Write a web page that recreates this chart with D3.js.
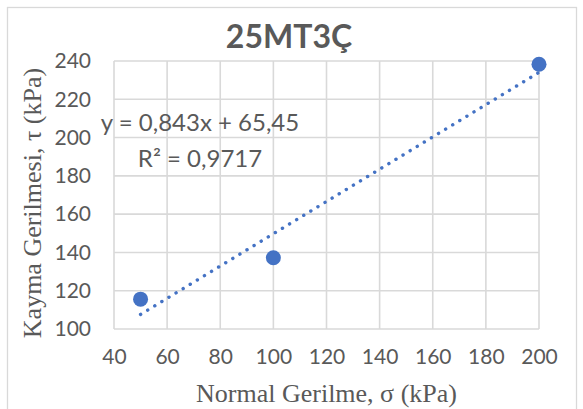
<!DOCTYPE html>
<html>
<head>
<meta charset="utf-8">
<script src="https://cdn.jsdelivr.net/npm/d3@7"></script>
<style>
  html, body { margin: 0; padding: 0; background: #fff; }
  svg { display: block; }
</style>
</head>
<body>
<svg id="chart" width="583" height="409"></svg>
<script>
// Direct shear test results: normal stress vs. shear stress
const normalStress = [50, 100, 200];          // σ (kPa)
const shearStress  = [115.6, 137.2, 238.3];   // τ (kPa)
const xTicks = [40, 60, 80, 100, 120, 140, 160, 180, 200];
const yTicks = [100, 120, 140, 160, 180, 200, 220, 240];
const fitSlope = 0.843;
const fitIntercept = 65.45;
const fitR2 = "0,9717";
const chartTitle = "25MT3Ç";

const svg = d3.select("#chart");
const plot = { left: 114, right: 539, top: 61, bottom: 329 };

const x = d3.scaleLinear().domain([40, 200]).range([plot.left, plot.right]);
const y = d3.scaleLinear().domain([100, 240]).range([plot.bottom, plot.top]);

const grey = "#595959";
const gridColor = "#d9d9d9";
const blue = "#4472C4";
const sans = "Lato, 'Open Sans', sans-serif";
const serif = "'Liberation Serif', 'Times New Roman', serif";

// chart frame
svg.append("rect")
  .attr("x", 7.5).attr("y", 7.5)
  .attr("width", 569).attr("height", 410)
  .attr("fill", "#fff").attr("stroke", gridColor).attr("stroke-width", 1.3);

// title
svg.append("text")
  .attr("x", 289).attr("y", 48)
  .attr("text-anchor", "middle")
  .attr("font-family", sans)
  .attr("font-weight", "bold")
  .attr("font-size", 32)
  .attr("fill", grey)
  .text(chartTitle);

// gridlines
const grid = svg.append("g");
grid.selectAll(".gx").data(xTicks).join("line")
  .attr("x1", d => x(d)).attr("x2", d => x(d))
  .attr("y1", plot.top).attr("y2", plot.bottom)
  .attr("stroke", gridColor).attr("stroke-width", 1.6);
grid.selectAll(".gy").data(yTicks).join("line")
  .attr("x1", plot.left).attr("x2", plot.right)
  .attr("y1", d => y(d)).attr("y2", d => y(d))
  .attr("stroke", gridColor).attr("stroke-width", 1.6);

// axes (labels only, no domain/tick lines)
const xAxis = svg.append("g")
  .attr("transform", `translate(0,${plot.bottom})`)
  .call(d3.axisBottom(x).tickValues(xTicks).tickSize(0).tickPadding(20));
const yAxis = svg.append("g")
  .attr("transform", `translate(${plot.left},0)`)
  .call(d3.axisLeft(y).tickValues(yTicks).tickSize(0).tickPadding(23));
[xAxis, yAxis].forEach(g => {
  g.select(".domain").remove();
  g.selectAll("text")
    .attr("font-family", sans)
    .attr("font-size", 21)
    .attr("fill", grey);
});
xAxis.selectAll("text").attr("dy", "0.71em");

// axis titles
svg.append("text")
  .attr("x", (plot.left + plot.right) / 2).attr("y", 402)
  .attr("text-anchor", "middle")
  .attr("font-family", serif)
  .attr("font-size", 26)
  .attr("fill", grey)
  .text("Normal Gerilme, σ (kPa)");

svg.append("text")
  .attr("transform", `translate(41,${(plot.top + plot.bottom) / 2 + 8}) rotate(-90)`)
  .attr("text-anchor", "middle")
  .attr("font-family", serif)
  .attr("font-size", 26)
  .attr("fill", grey)
  .text("Kayma Gerilmesi, τ (kPa)");

// linear trendline (dotted)
const fitX = d3.extent(normalStress);
svg.append("line")
  .attr("x1", x(fitX[0])).attr("y1", y(fitSlope * fitX[0] + fitIntercept))
  .attr("x2", x(fitX[1])).attr("y2", y(fitSlope * fitX[1] + fitIntercept))
  .attr("stroke", blue)
  .attr("stroke-width", 3.4)
  .attr("stroke-linecap", "round")
  .attr("stroke-dasharray", "0.1 8.2");

// data points
svg.selectAll(".pt").data(normalStress).join("circle")
  .attr("cx", d => x(d))
  .attr("cy", (d, i) => y(shearStress[i]))
  .attr("r", 7.5)
  .attr("fill", blue);

// fit equation label
const eq = svg.append("text")
  .attr("text-anchor", "middle")
  .attr("font-family", sans)
  .attr("font-size", 24)
  .attr("fill", grey);
eq.append("tspan").attr("x", 200).attr("y", 131)
  .text(`y = ${String(fitSlope).replace(".", ",")}x + ${String(fitIntercept).replace(".", ",")}`);
eq.append("tspan").attr("x", 200).attr("y", 167)
  .text(`R² = ${fitR2}`);
</script>
</body>
</html>
